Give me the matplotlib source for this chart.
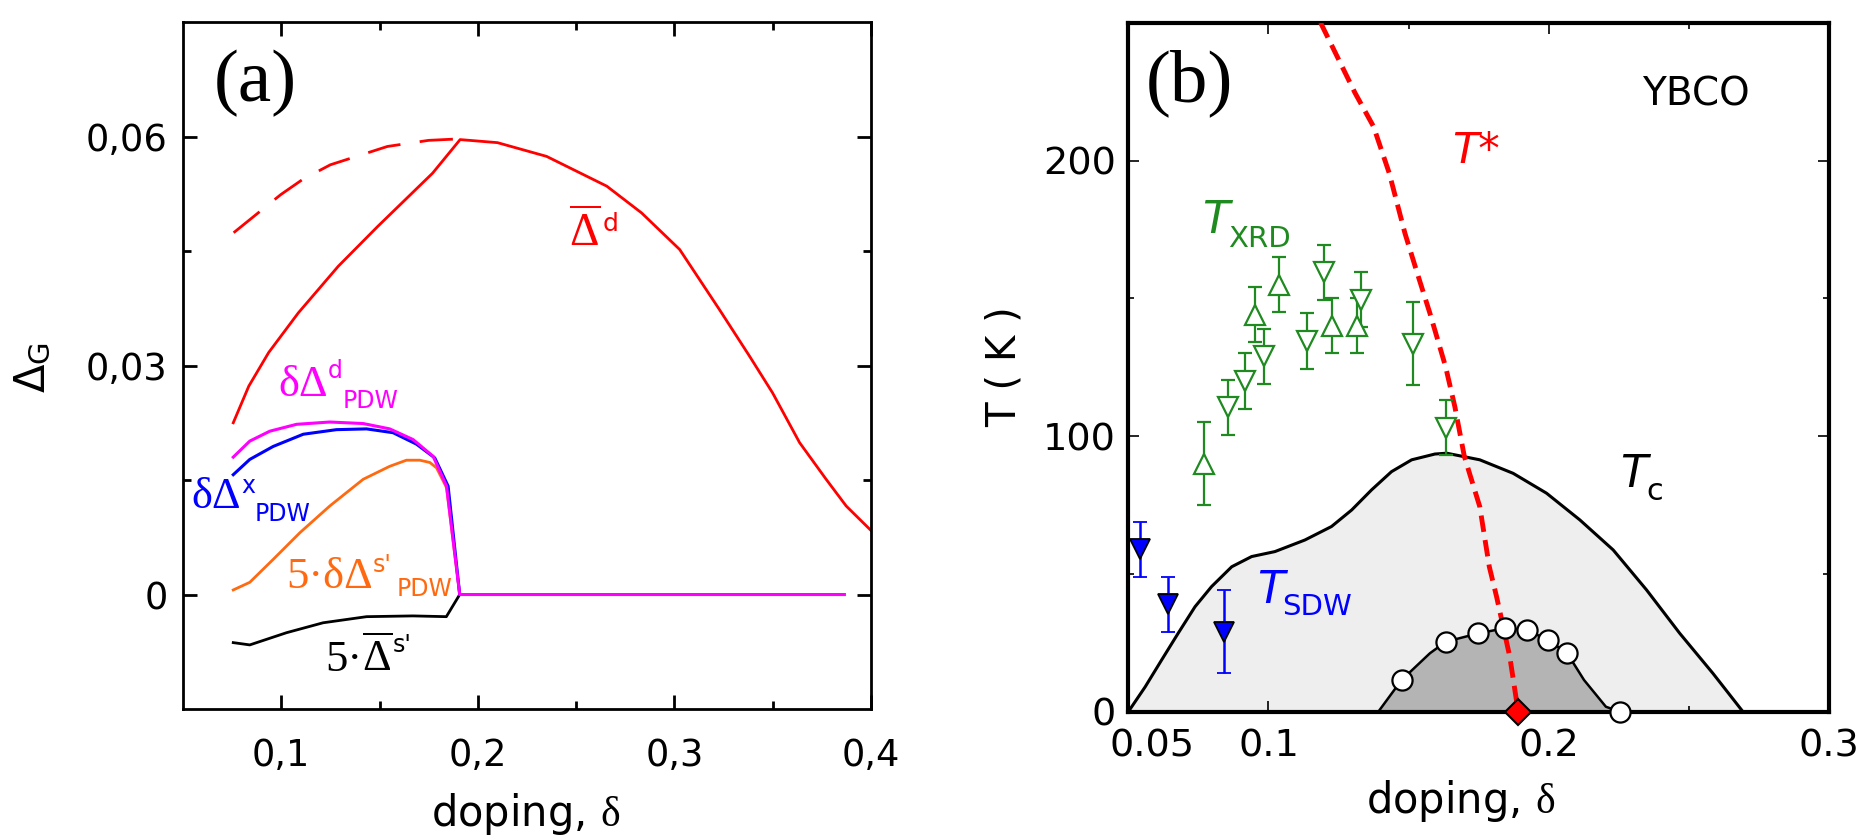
import matplotlib
matplotlib.use('Agg')
import matplotlib.pyplot as plt
from matplotlib.transforms import ScaledTranslation

plt.rcParams['font.family'] = ['DejaVu Sans']
plt.rcParams['mathtext.fontset'] = 'custom'
plt.rcParams['mathtext.rm'] = 'Liberation Serif'
plt.rcParams['mathtext.it'] = 'Liberation Serif:italic'
plt.rcParams['mathtext.sf'] = 'DejaVu Sans'

# ---- panel (a) data: gap amplitudes vs doping ----
d_bar_x = [0.0756, 0.0835, 0.0936, 0.1087, 0.129, 0.149, 0.177, 0.191, 0.21, 0.235,
           0.2656, 0.2833, 0.3027, 0.323, 0.3383, 0.350, 0.3637, 0.3772, 0.3874, 0.4]
d_bar_y = [0.0225, 0.0273, 0.0317, 0.0369, 0.043, 0.0482, 0.0552, 0.0596, 0.0592, 0.0574,
           0.0535, 0.050, 0.0452, 0.0373, 0.0312, 0.0264, 0.0199, 0.0151, 0.0116, 0.0084]
d_dash_x = [0.0758, 0.0998, 0.111, 0.125, 0.154, 0.175, 0.191]
d_dash_y = [0.0474, 0.0524, 0.0544, 0.0563, 0.0587, 0.0595, 0.0597]
pdw_d_x = [0.0756, 0.084, 0.0942, 0.1078, 0.1247, 0.1417, 0.1552, 0.1671, 0.1773, 0.1841, 0.1908, 0.3865]
pdw_d_y = [0.018, 0.0201, 0.0214, 0.0223, 0.0226, 0.0224, 0.0217, 0.0203, 0.0181, 0.0142, 0.0, 0.0]
pdw_x_x = [0.0756, 0.084, 0.0959, 0.1112, 0.1281, 0.1434, 0.1569, 0.1688, 0.1781, 0.1849, 0.1908]
pdw_x_y = [0.0157, 0.0177, 0.0194, 0.021, 0.0216, 0.0217, 0.0212, 0.0197, 0.0179, 0.0142, 0.0]
pdw_s_x = [0.0756, 0.084, 0.0959, 0.1095, 0.1247, 0.1417, 0.1552, 0.1637, 0.1705, 0.1756, 0.179, 0.1841, 0.1908]
pdw_s_y = [0.0006, 0.0016, 0.0046, 0.0081, 0.0116, 0.0151, 0.0168, 0.0176, 0.0176, 0.0173, 0.0166, 0.014, 0.0]
s_bar_x = [0.0756, 0.084, 0.1027, 0.1213, 0.1434, 0.167, 0.184, 0.1908]
s_bar_y = [-0.0063, -0.0066, -0.005, -0.0037, -0.0029, -0.0028, -0.0029, 0.0]

a_xticks = [0.1, 0.2, 0.3, 0.4]
a_xlabels = ['0,1', '0,2', '0,3', '0,4']
a_yticks = [0, 0.03, 0.06]
a_ylabels = ['0', '0,03', '0,06']

# ---- panel (b) data: YBCO phase diagram ----
tc_x = [0.05, 0.056, 0.0619, 0.0678, 0.0738, 0.0797, 0.0869, 0.094, 0.1023, 0.113, 0.1225,
        0.1297, 0.1368, 0.1439, 0.1511, 0.1594, 0.1636, 0.1754, 0.1873, 0.1992, 0.2111,
        0.223, 0.2349, 0.2467, 0.2586, 0.2693]
tc_y = [0, 9, 18.8, 28.5, 38.1, 45.4, 52.6, 56.3, 58.1, 62.3, 67.2, 73.2, 80.5, 87.1, 91.4,
        93.5, 93.8, 91.4, 86.5, 79.3, 69.6, 58.7, 44.2, 28.5, 13.9, 0]
dome_x = [0.1392, 0.1475, 0.1576, 0.1633, 0.1748, 0.1843, 0.1921, 0.1998, 0.2066, 0.2126, 0.2204, 0.2254]
dome_y = [0, 11.5, 21.2, 25.4, 28.4, 30.3, 29.7, 26, 21.2, 11.5, 1.8, 0]
circ_x = [0.1475, 0.1633, 0.1748, 0.1843, 0.1921, 0.1998, 0.2066, 0.2254]
circ_y = [11.5, 25.4, 28.4, 30.3, 29.7, 26, 21.2, 0]
tstar_x = [0.1186, 0.1309, 0.1375, 0.1431, 0.1487, 0.1531, 0.1576, 0.1632, 0.1665, 0.1699,
           0.1754, 0.1788, 0.1814, 0.1861, 0.1891]
tstar_y = [250, 224.5, 212.3, 195.4, 173.6, 159.1, 144.6, 125.2, 110.7, 92.6, 74.4, 52.6, 41.7, 20, 0]
qcp_x = [0.1891]
qcp_y = [0]
xrd_up_x = [0.0769, 0.0952, 0.1037, 0.1226, 0.1315]
xrd_up_y = [90, 144, 155, 140, 140]
xrd_up_err = [15, 10, 10, 10, 10]
xrd_dn_x = [0.0856, 0.0916, 0.0985, 0.1137, 0.1197, 0.1331, 0.1514, 0.1632]
xrd_dn_y = [110.5, 120, 129, 134.5, 159.5, 149.5, 133.5, 103]
xrd_dn_err = [10, 10, 10, 10, 10, 10, 15, 10]
sdw_x = [0.0542, 0.064, 0.0841]
sdw_y = [59, 39, 29]
sdw_err = [10, 10, 15]

b_xticks = [0.05, 0.1, 0.2, 0.3]
b_xlabels = ['0.05', '0.1', '0.2', '0.3']
b_yticks = [0, 100, 200]

green = '#1f8a1f'
orange = '#ff6a10'


def chain(ax, prev, y0, s, dy, size, color, dx=0, family='DejaVu Sans', style='normal'):
    # put a piece of text just right of the previous one, baseline shifted by dy points
    return ax.annotate(s, xy=(1, y0), xycoords=(prev, 'data'), xytext=(dx, dy),
                       textcoords='offset points', ha='left', va='baseline',
                       fontsize=size, color=color, family=family, fontstyle=style)


fig = plt.figure(figsize=(18.61, 8.38), dpi=100)

# ================= panel (a) =================
ax1 = fig.add_axes([0.0983, 0.1539, 0.3697, 0.8198])
ax1.plot(d_dash_x, d_dash_y, color='red', lw=2, linestyle=(0, (12, 7)))
ax1.plot(d_bar_x, d_bar_y, color='red', lw=2)
ax1.plot(s_bar_x, s_bar_y, color='black', lw=2)
ax1.plot(pdw_s_x, pdw_s_y, color=orange, lw=2)
ax1.plot(pdw_x_x, pdw_x_y, color='blue', lw=2.2)
ax1.plot(pdw_d_x, pdw_d_y, color='magenta', lw=2.2)

ax1.set_xlim(0.05, 0.4)
ax1.set_ylim(-0.015, 0.075)
ax1.set_xticks(a_xticks)
ax1.set_xticklabels(a_xlabels)
ax1.set_xticks([0.15, 0.25, 0.35], minor=True)
ax1.set_yticks(a_yticks)
ax1.set_yticklabels(a_ylabels)
ax1.set_yticks([0.015, 0.045], minor=True)
ax1.tick_params(which='both', direction='in', top=True, right=True, width=2, labelsize=26.5)
ax1.tick_params(which='major', length=10)
ax1.tick_params(which='minor', length=6)
ax1.tick_params(axis='x', pad=20)
ax1.tick_params(axis='y', pad=11)
for sp in ax1.spines.values():
    sp.set_linewidth(2)

# curve labels
t = ax1.text(0.2466, 0.0456, r'$\overline{\Delta}$', fontsize=33, color='red', va='baseline')
chain(ax1, t, 0.0456, 'd', 10.8, 18, 'red', dx=1)

t = ax1.text(0.0986, 0.026, 'δΔ', fontsize=32, color='magenta', va='baseline', family='Liberation Serif')
t2 = chain(ax1, t, 0.026, 'd', 13, 17, 'magenta')
chain(ax1, t2, 0.026, 'PDW', -8.4, 17, 'magenta')

t = ax1.text(0.0544, 0.01136, 'δΔ', fontsize=32, color='blue', va='baseline', family='Liberation Serif')
t2 = chain(ax1, t, 0.01136, 'x', 10.8, 17, 'blue')
chain(ax1, t2, 0.01136, 'PDW', -9.6, 17, 'blue')

t = ax1.text(0.1024, 0.00088, '5·δΔ', fontsize=32, color=orange, va='baseline', family='Liberation Serif')
t2 = chain(ax1, t, 0.00088, "s'", 11.2, 17, orange)
chain(ax1, t2, 0.00088, 'PDW', -6, 17, orange, dx=4)

t = ax1.text(0.1222, -0.01005, '5·', fontsize=32, color='black', va='baseline', family='Liberation Serif')
t2 = chain(ax1, t, -0.01005, r'$\overline{\Delta}$', 0, 32, 'black')
chain(ax1, t2, -0.01005, "s'", 14, 17, 'black')

fig.text(0.115, 0.901, '(a)', fontsize=54, family='Liberation Serif', va='center', ha='left')
fig.text(0.018, 0.562, r'$\mathsf{\Delta}_{\mathsf{G}}$', fontsize=30, rotation=90,
         ha='center', va='center')
fig.text(0.2826, 0.0286, r'doping, $\mathrm{\delta}$', fontsize=30, ha='center', va='center')

# ================= panel (b) =================
ax2 = fig.add_axes([0.6063, 0.1507, 0.3765, 0.8222])
ax2.fill_between(tc_x, tc_y, color='#eeeeee', lw=0, zorder=1)
ax2.plot(tc_x, tc_y, color='black', lw=2.2, zorder=2)
ax2.fill_between(dome_x, dome_y, color='#b4b4b4', lw=0, zorder=2)
ax2.plot(dome_x, dome_y, color='black', lw=1.8, zorder=2.5)
ax2.plot(tstar_x, tstar_y, color='red', lw=3.5, linestyle=(0, (3.4, 1.7)), zorder=3)
ax2.plot(circ_x, circ_y, 'o', ms=14.5, mfc='white', mec='black', mew=1.6, zorder=5, clip_on=False)
ax2.plot(qcp_x, qcp_y, 'D', ms=13, mfc='red', mec='black', mew=1.5, zorder=6, clip_on=False)

ax2.errorbar(xrd_up_x, xrd_up_y, yerr=xrd_up_err, fmt='^', ms=14, mfc='white', mec=green,
             mew=1.6, ecolor=green, elinewidth=1.6, capsize=5, capthick=1.6, zorder=4)
ax2.errorbar(xrd_dn_x, xrd_dn_y, yerr=xrd_dn_err, fmt='v', ms=14, mfc='white', mec=green,
             mew=1.6, ecolor=green, elinewidth=1.6, capsize=5, capthick=1.6, zorder=4)
ax2.errorbar(sdw_x, sdw_y, yerr=sdw_err, fmt='v', ms=15, mfc='blue', mec='black',
             mew=1.3, ecolor='blue', elinewidth=1.8, capsize=5, capthick=1.8, zorder=4)

ax2.set_xlim(0.05, 0.3)
ax2.set_ylim(0, 250)
ax2.set_xticks(b_xticks)
ax2.set_xticklabels(b_xlabels)
ax2.set_xticks([0.15, 0.25], minor=True)
ax2.set_yticks(b_yticks)
ax2.set_yticks([50, 150], minor=True)
ax2.tick_params(which='both', direction='in', top=True, right=True, width=1.2, labelsize=27.5)
ax2.tick_params(which='major', length=8)
ax2.tick_params(which='minor', length=4)
ax2.tick_params(axis='x', pad=12)
ax2.tick_params(axis='y', pad=9)
for sp in ax2.spines.values():
    sp.set_linewidth(3)
lab = ax2.get_xticklabels()[0]
lab.set_transform(lab.get_transform() + ScaledTranslation(0.24, 0, fig.dpi_scale_trans))

ax2.text(0.2334, 219.9, 'YBCO', fontsize=28, va='baseline')
ax2.text(0.1654, 199, 'T*', fontsize=31, color='red', style='italic', va='baseline')
t = ax2.text(0.0763, 173.6, 'T', fontsize=32, color=green, style='italic', va='baseline')
chain(ax2, t, 173.6, 'XRD', -9.6, 21, green, dx=-1)
t = ax2.text(0.0958, 39.3, 'T', fontsize=32, color='blue', style='italic', va='baseline')
chain(ax2, t, 39.3, 'SDW', -8.4, 21, 'blue', dx=-1)
t = ax2.text(0.2253, 81.7, 'T', fontsize=32, color='black', style='italic', va='baseline')
chain(ax2, t, 81.7, 'c', -9.6, 22, 'black', dx=0)

fig.text(0.6156, 0.901, '(b)', fontsize=54, family='Liberation Serif', va='center', ha='left')
fig.text(0.54, 0.563, 'T ( K )', fontsize=29, rotation=90, ha='center', va='center')
fig.text(0.785, 0.0447, r'doping, $\mathrm{\delta}$', fontsize=30, ha='center', va='center')

fig.savefig('out.png', dpi=100)
